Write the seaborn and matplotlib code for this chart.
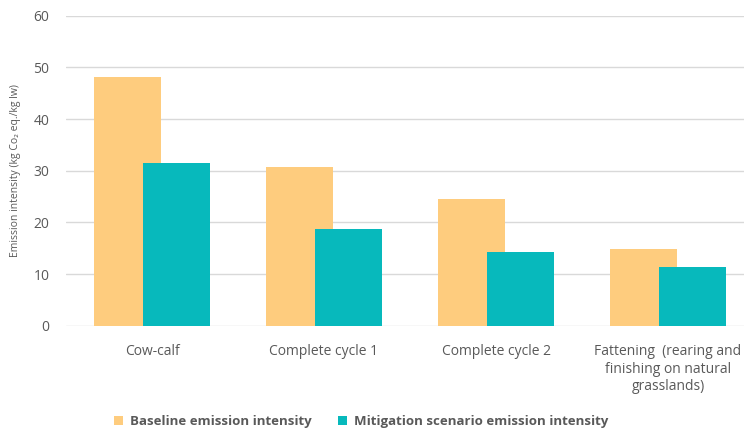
import numpy as np
import matplotlib.pyplot as plt
import seaborn as sns
import pandas as pd

categories = ['Cow-calf', 'Complete cycle 1', 'Complete cycle 2',
              'Fattening  (rearing and\nfinishing on natural\ngrasslands)']
baseline = [48.2, 30.8, 24.5, 14.8]
mitigation = [31.4, 18.7, 14.2, 11.3]
series = ['Baseline emission intensity', 'Mitigation scenario emission intensity']

df = pd.DataFrame({
    'category': categories * 2,
    'value': baseline + mitigation,
    'series': [series[0]] * 4 + [series[1]] * 4,
})

sns.set_theme(style='white')
plt.rcParams['font.family'] = ['Open Sans', 'DejaVu Sans']
grey = '#595959'

fig = plt.figure(figsize=(7.44, 4.34), dpi=100)
ax = fig.add_axes([66 / 744, 108.3 / 434, 688 / 744, 310 / 434])

sns.barplot(data=df, x='category', y='value', hue='series', hue_order=series,
            palette=['#FECC7E', '#07B9BC'], width=0.58, saturation=1,
            linewidth=0, ax=ax, legend=True)

# widen bars so the pairs overlap like the original
for p in ax.patches:
    if p.get_height() > 0:
        c = p.get_x() + p.get_width() / 2
        p.set_width(0.39)
        p.set_x(c - 0.195)

ax.set_xlim(-0.5, 3.5)
ax.set_ylim(0, 60)
ax.set_yticks(range(0, 61, 10))
ax.grid(axis='y', color='#D9D9D9', linewidth=1)
ax.set_axisbelow(True)
for s in ax.spines.values():
    s.set_visible(False)
ax.tick_params(axis='both', length=0, colors=grey, labelsize=10)
ax.tick_params(axis='x', pad=13)
ax.tick_params(axis='y', pad=12)
for t in ax.get_xticklabels():
    t.set_linespacing(1.25)
ax.set_xlabel('')
ax.set_ylabel('Emission intensity (kg Co\u2082 eq./kg lw)', fontsize=7.5, color=grey, labelpad=9)

handles, labels = ax.get_legend_handles_labels()
ax.get_legend().remove()
fig.legend(handles, labels, loc='center', bbox_to_anchor=(361 / 744, 12.5 / 434),
           ncol=2, frameon=False, handlelength=0.7, handleheight=0.7,
           handletextpad=0.5, columnspacing=2.0,
           prop={'weight': 'bold', 'size': 9.5}, labelcolor=grey)

fig.savefig('out.png', dpi=100)
